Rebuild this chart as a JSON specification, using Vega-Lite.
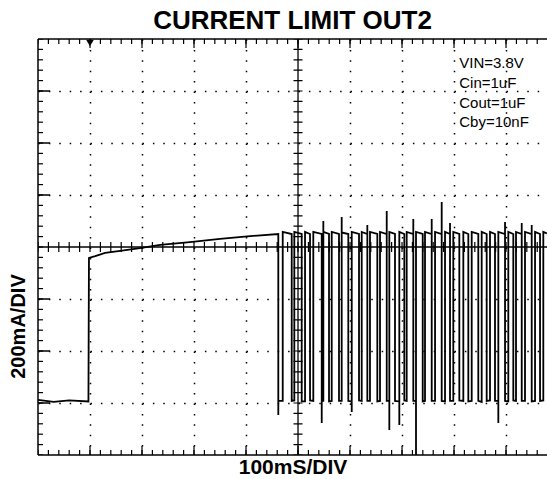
{
  "$schema": "https://vega.github.io/schema/vega-lite/v6.json",
  "width": 509,
  "height": 416,
  "autosize": {"type": "none"},
  "padding": {"left": 38, "top": 39, "right": 0, "bottom": 24},
  "background": "white",
  "config": {"view": {"stroke": null}, "font": "Liberation Sans"},
  "title": {"text": "CURRENT LIMIT OUT2", "fontSize": 26, "fontWeight": "bold", "font": "Liberation Sans", "color": "black", "anchor": "middle", "frame": "group", "baseline": "alphabetic", "offset": 9, "dy": 26},
  "datasets": {
    "xt": [{"t":0},{"t":20},{"t":40},{"t":60},{"t":80},{"t":100},{"t":120},{"t":140},{"t":160},{"t":180},{"t":200},{"t":220},{"t":240},{"t":260},{"t":280},{"t":300},{"t":320},{"t":340},{"t":360},{"t":380},{"t":400},{"t":420},{"t":440},{"t":460},{"t":480},{"t":500},{"t":520},{"t":540},{"t":560},{"t":580},{"t":600},{"t":620},{"t":640},{"t":660},{"t":680},{"t":700},{"t":720},{"t":740},{"t":760},{"t":780},{"t":800},{"t":820},{"t":840},{"t":860},{"t":880},{"t":900},{"t":920},{"t":940},{"t":960}],
    "xm": [{"t":100},{"t":200},{"t":300},{"t":400},{"t":500},{"t":600},{"t":700},{"t":800},{"t":900}],
    "yt": [{"mA":-800},{"mA":-760},{"mA":-720},{"mA":-680},{"mA":-640},{"mA":-600},{"mA":-560},{"mA":-520},{"mA":-480},{"mA":-440},{"mA":-400},{"mA":-360},{"mA":-320},{"mA":-280},{"mA":-240},{"mA":-200},{"mA":-160},{"mA":-120},{"mA":-80},{"mA":-40},{"mA":0},{"mA":40},{"mA":80},{"mA":120},{"mA":160},{"mA":200},{"mA":240},{"mA":280},{"mA":320},{"mA":360},{"mA":400},{"mA":440},{"mA":480},{"mA":520},{"mA":560},{"mA":600},{"mA":640},{"mA":680},{"mA":720},{"mA":760},{"mA":800}],
    "ym": [{"mA":-600},{"mA":-400},{"mA":-200},{"mA":200},{"mA":400},{"mA":600}],
    "trace": [
      {"i":0,"t":0,"mA":-588},{"i":1,"t":30,"mA":-596},{"i":2,"t":60,"mA":-590},{"i":3,"t":97,"mA":-594},
      {"i":4,"t":98,"mA":-42},{"i":5,"t":110,"mA":-35},{"i":6,"t":129,"mA":-23},{"i":7,"t":158,"mA":-15},{"i":8,"t":196,"mA":-4},{"i":9,"t":235,"mA":8},{"i":10,"t":292,"mA":19},{"i":11,"t":350,"mA":31},{"i":12,"t":408,"mA":42},
      {"i":13,"t":462.1,"mA":50},{"i":14,"t":462.1,"mA":-646},{"i":15,"t":462.1,"mA":-592},{"i":16,"t":470.6,"mA":-592},{"i":17,"t":470.6,"mA":58},
      {"i":18,"t":487.9,"mA":50},{"i":19,"t":487.9,"mA":-592},{"i":20,"t":492.9,"mA":-590},{"i":21,"t":492.9,"mA":58},
      {"i":22,"t":507.1,"mA":50},{"i":23,"t":507.1,"mA":-594},{"i":24,"t":513.5,"mA":-594},{"i":25,"t":513.5,"mA":58},
      {"i":26,"t":523.1,"mA":50},{"i":27,"t":523.1,"mA":-590},{"i":28,"t":529.4,"mA":-592},{"i":29,"t":529.4,"mA":58},
      {"i":30,"t":545.6,"mA":50},{"i":31,"t":545.6,"mA":-677},{"i":32,"t":545.6,"mA":-592},{"i":33,"t":548.7,"mA":-592},{"i":34,"t":548.7,"mA":100},{"i":35,"t":548.7,"mA":58},
      {"i":36,"t":559.6,"mA":50},{"i":37,"t":559.6,"mA":-594},{"i":38,"t":564.8,"mA":-592},{"i":39,"t":564.8,"mA":58},
      {"i":40,"t":578.8,"mA":50},{"i":41,"t":578.8,"mA":-592},{"i":42,"t":584.0,"mA":-592},{"i":43,"t":584.0,"mA":115},{"i":44,"t":584.0,"mA":56},
      {"i":45,"t":596.7,"mA":50},{"i":46,"t":596.7,"mA":-592},{"i":47,"t":603.3,"mA":-594},{"i":48,"t":603.3,"mA":-635},{"i":49,"t":603.3,"mA":58},
      {"i":50,"t":617.3,"mA":50},{"i":51,"t":617.3,"mA":-590},{"i":52,"t":622.5,"mA":-592},{"i":53,"t":622.5,"mA":58},
      {"i":54,"t":633.3,"mA":50},{"i":55,"t":633.3,"mA":85},{"i":56,"t":633.3,"mA":-592},{"i":57,"t":638.4,"mA":-592},{"i":58,"t":638.4,"mA":58},
      {"i":59,"t":652.5,"mA":50},{"i":60,"t":652.5,"mA":-594},{"i":61,"t":657.7,"mA":-592},{"i":62,"t":657.7,"mA":58},
      {"i":63,"t":670.6,"mA":50},{"i":64,"t":670.6,"mA":138},{"i":65,"t":670.6,"mA":-592},{"i":66,"t":675.6,"mA":-592},{"i":67,"t":675.6,"mA":-704},{"i":68,"t":675.6,"mA":58},
      {"i":69,"t":686.5,"mA":50},{"i":70,"t":686.5,"mA":-592},{"i":71,"t":694.8,"mA":-594},{"i":72,"t":694.8,"mA":-685},{"i":73,"t":694.8,"mA":58},
      {"i":74,"t":704.4,"mA":50},{"i":75,"t":704.4,"mA":-590},{"i":76,"t":709.0,"mA":-592},{"i":77,"t":709.0,"mA":58},
      {"i":78,"t":721.7,"mA":50},{"i":79,"t":721.7,"mA":108},{"i":80,"t":721.7,"mA":-592},{"i":81,"t":726.9,"mA":-592},{"i":82,"t":726.9,"mA":-800},{"i":83,"t":726.9,"mA":58},
      {"i":84,"t":739.8,"mA":50},{"i":85,"t":739.8,"mA":-594},{"i":86,"t":744.2,"mA":-592},{"i":87,"t":744.2,"mA":58},
      {"i":88,"t":757.1,"mA":50},{"i":89,"t":757.1,"mA":108},{"i":90,"t":757.1,"mA":-592},{"i":91,"t":763.5,"mA":-592},{"i":92,"t":763.5,"mA":58},
      {"i":93,"t":776.3,"mA":50},{"i":94,"t":776.3,"mA":173},{"i":95,"t":776.3,"mA":-592},{"i":96,"t":782.7,"mA":-594},{"i":97,"t":782.7,"mA":58},
      {"i":98,"t":792.3,"mA":50},{"i":99,"t":792.3,"mA":92},{"i":100,"t":792.3,"mA":-592},{"i":101,"t":798.6,"mA":-592},{"i":102,"t":798.6,"mA":58},
      {"i":103,"t":810.2,"mA":50},{"i":104,"t":810.2,"mA":-590},{"i":105,"t":817.9,"mA":-592},{"i":106,"t":817.9,"mA":58},
      {"i":107,"t":827.5,"mA":50},{"i":108,"t":827.5,"mA":-594},{"i":109,"t":834.0,"mA":-592},{"i":110,"t":834.0,"mA":58},
      {"i":111,"t":846.7,"mA":50},{"i":112,"t":846.7,"mA":-592},{"i":113,"t":853.2,"mA":-596},{"i":114,"t":853.2,"mA":58},
      {"i":115,"t":862.8,"mA":50},{"i":116,"t":862.8,"mA":-592},{"i":117,"t":869.2,"mA":-590},{"i":118,"t":869.2,"mA":58},
      {"i":119,"t":878.8,"mA":50},{"i":120,"t":878.8,"mA":-592},{"i":121,"t":885.2,"mA":-592},{"i":122,"t":885.2,"mA":-677},{"i":123,"t":885.2,"mA":58},
      {"i":124,"t":898.1,"mA":50},{"i":125,"t":898.1,"mA":96},{"i":126,"t":898.1,"mA":-592},{"i":127,"t":904.4,"mA":-594},{"i":128,"t":904.4,"mA":58},
      {"i":129,"t":914.0,"mA":50},{"i":130,"t":914.0,"mA":-590},{"i":131,"t":919.2,"mA":-592},{"i":132,"t":919.2,"mA":58},
      {"i":133,"t":930.2,"mA":50},{"i":134,"t":930.2,"mA":92},{"i":135,"t":930.2,"mA":-592},{"i":136,"t":936.5,"mA":-592},{"i":137,"t":936.5,"mA":58},
      {"i":138,"t":949.4,"mA":50},{"i":139,"t":949.4,"mA":85},{"i":140,"t":949.4,"mA":-594},{"i":141,"t":955.8,"mA":-592},{"i":142,"t":955.8,"mA":58},
      {"i":143,"t":965.4,"mA":50},{"i":144,"t":965.4,"mA":-592},{"i":145,"t":971.7,"mA":-590},{"i":146,"t":971.7,"mA":58},
      {"i":147,"t":978.8,"mA":52}
    ]
  },
  "layer": [
    {"data": {"name": "trace"}, "mark": {"type": "line", "color": "black", "strokeWidth": 1.8, "clip": true},
     "encoding": {
       "x": {"field": "t", "type": "quantitative", "scale": {"domain": [0, 978.8], "nice": false, "zero": false},
             "axis": {"values": [100,200,300,400,600,700,800,900], "grid": true, "gridColor": "black", "gridDash": [1.5, 8.9], "gridWidth": 1.5, "gridOpacity": 1,
                      "domain": false, "ticks": false, "labels": false, "title": "100mS/DIV", "titleFont": "Liberation Sans", "titleFontSize": 21, "titleFontWeight": "bold", "titleColor": "black",
                      "titleX": 254.5, "titleY": 18, "titleBaseline": "alphabetic", "titleAlign": "center"}},
       "y": {"field": "mA", "type": "quantitative", "scale": {"domain": [-800, 800], "nice": false, "zero": false},
             "axis": {"values": [-600,-400,-200,200,400,600], "grid": true, "gridColor": "black", "gridDash": [1.5, 8.9], "gridWidth": 1.5, "gridOpacity": 1,
                      "domain": false, "ticks": false, "labels": false, "title": "200mA/DIV", "titleFont": "Liberation Sans", "titleFontSize": 20, "titleFontWeight": "bold", "titleColor": "black",
                      "titleX": -20, "titleY": 287, "titleAngle": 270, "titleBaseline": "middle", "titleAlign": "center"}},
       "order": {"field": "i", "type": "quantitative"}
     }},
    {"data": {"name": "xt"}, "mark": {"type": "tick", "orient": "vertical", "size": 10, "thickness": 1.2, "color": "black", "opacity": 1, "clip": true},
     "encoding": {"x": {"field": "t", "type": "quantitative"}, "y": {"datum": 800, "type": "quantitative"}}},
    {"data": {"name": "xt"}, "mark": {"type": "tick", "orient": "vertical", "size": 10, "thickness": 1.2, "color": "black", "opacity": 1, "clip": true},
     "encoding": {"x": {"field": "t", "type": "quantitative"}, "y": {"datum": -800, "type": "quantitative"}}},
    {"data": {"name": "xt"}, "mark": {"type": "tick", "orient": "vertical", "size": 10, "thickness": 1.2, "color": "black", "opacity": 1, "clip": true},
     "encoding": {"x": {"field": "t", "type": "quantitative"}, "y": {"datum": 0, "type": "quantitative"}}},
    {"data": {"name": "xm"}, "mark": {"type": "tick", "orient": "vertical", "size": 18, "thickness": 1.2, "color": "black", "opacity": 1, "clip": true},
     "encoding": {"x": {"field": "t", "type": "quantitative"}, "y": {"datum": 800, "type": "quantitative"}}},
    {"data": {"name": "xm"}, "mark": {"type": "tick", "orient": "vertical", "size": 18, "thickness": 1.2, "color": "black", "opacity": 1, "clip": true},
     "encoding": {"x": {"field": "t", "type": "quantitative"}, "y": {"datum": -800, "type": "quantitative"}}},
    {"data": {"name": "yt"}, "mark": {"type": "tick", "orient": "horizontal", "size": 10, "thickness": 1.2, "color": "black", "opacity": 1, "clip": true},
     "encoding": {"y": {"field": "mA", "type": "quantitative"}, "x": {"datum": 0, "type": "quantitative"}}},
    {"data": {"name": "yt"}, "mark": {"type": "tick", "orient": "horizontal", "size": 9, "thickness": 1.2, "color": "black", "opacity": 1, "clip": true},
     "encoding": {"y": {"field": "mA", "type": "quantitative"}, "x": {"datum": 500, "type": "quantitative"}}},
    {"data": {"name": "ym"}, "mark": {"type": "tick", "orient": "horizontal", "size": 24, "thickness": 1.5, "color": "black", "opacity": 1, "clip": true},
     "encoding": {"y": {"field": "mA", "type": "quantitative"}, "x": {"datum": 0, "type": "quantitative"}}},
    {"data": {"values": [{}]}, "mark": {"type": "rule", "color": "black", "strokeWidth": 1.5},
     "encoding": {"y": {"datum": 800, "type": "quantitative"}}},
    {"data": {"values": [{}]}, "mark": {"type": "rule", "color": "black", "strokeWidth": 1.5},
     "encoding": {"y": {"datum": -800, "type": "quantitative"}}},
    {"data": {"values": [{}]}, "mark": {"type": "rule", "color": "black", "strokeWidth": 1.3},
     "encoding": {"y": {"datum": 0, "type": "quantitative"}}},
    {"data": {"values": [{}]}, "mark": {"type": "rule", "color": "black", "strokeWidth": 1.5},
     "encoding": {"x": {"datum": 0, "type": "quantitative"}}},
    {"data": {"values": [{}]}, "mark": {"type": "rule", "color": "black", "strokeWidth": 1.3},
     "encoding": {"x": {"datum": 500, "type": "quantitative"}}},
    {"data": {"values": [{}]}, "mark": {"type": "point", "shape": "triangle-down", "filled": true, "color": "black", "opacity": 1, "size": 60, "yOffset": 4},
     "encoding": {"x": {"datum": 100, "type": "quantitative"}, "y": {"datum": 800, "type": "quantitative"}}},
    {"data": {"values": [{}]}, "mark": {"type": "text", "text": ["VIN=3.8V", "Cin=1uF", "Cout=1uF", "Cby=10nF"], "align": "left", "baseline": "alphabetic", "fontSize": 15, "lineHeight": 19.7, "color": "black", "font": "Liberation Sans"},
     "encoding": {"x": {"datum": 810, "type": "quantitative"}, "y": {"datum": 688, "type": "quantitative"}}}
  ]
}
